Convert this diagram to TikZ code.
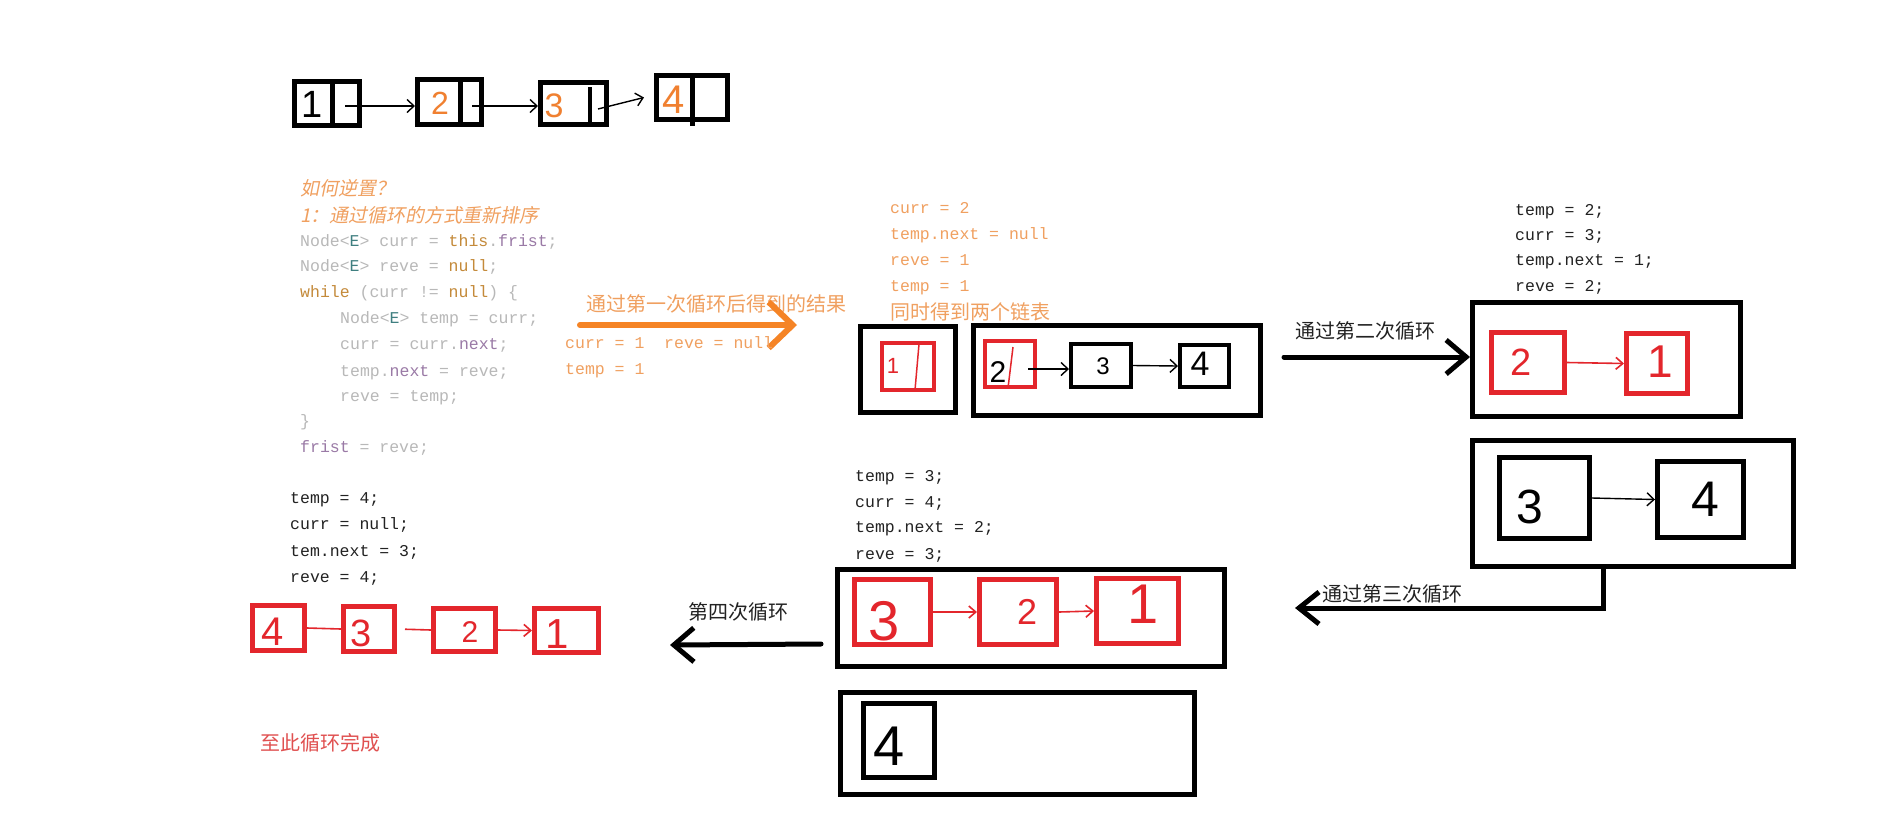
\documentclass[tikz,border=0pt]{standalone}
\usepackage{fontspec}
\setmainfont{Liberation Sans}
\newfontfamily\cjkfont{Noto Sans CJK SC}
\newfontfamily\cjkslant{Noto Sans CJK SC}[FakeSlant=0.2]
\newfontfamily\monofont{Liberation Mono}
\usetikzlibrary{arrows.meta}
\definecolor{boxred}{HTML}{E3262C}
\definecolor{penorange}{HTML}{F08030}
\definecolor{arrorange}{HTML}{F58426}
\definecolor{txtorange}{HTML}{F0A060}
\definecolor{cgray}{HTML}{B8B8B8}
\definecolor{cteal}{HTML}{3F7F80}
\definecolor{ckw}{HTML}{C48A3A}
\definecolor{cpur}{HTML}{9A7AA6}
\definecolor{txtblack}{HTML}{222222}
\definecolor{txtred}{HTML}{E05050}
\newcommand{\codeG}[1]{\textcolor{cgray}{#1}}
\newcommand{\codeT}[1]{\textcolor{cteal}{#1}}
\newcommand{\codeK}[1]{\textcolor{ckw}{#1}}
\newcommand{\codeP}[1]{\textcolor{cpur}{#1}}
\begin{document}
\begin{tikzpicture}[x=1pt,y=-1pt,
 blk/.style={draw=black,line width=5pt,inner sep=0pt},
 blkthin/.style={draw=black,line width=4pt,inner sep=0pt},
 redbox/.style={draw=boxred,line width=5pt,inner sep=0pt},
 code/.style={font=\monofont\fontsize{16.5pt}{20pt}\selectfont,anchor=west,inner sep=0pt,text height=12pt,text depth=3pt},
 cn/.style={font=\cjkfont\fontsize{20pt}{24pt}\selectfont,inner sep=0pt},
 cnit/.style={font=\cjkslant\fontsize{19pt}{23pt}\selectfont,inner sep=0pt,anchor=west,text=txtorange},
 dg/.style={font=\fontsize{#1pt}{#1pt}\selectfont,inner sep=0pt},
 thinarr/.style={line width=1.4pt,-{Straight Barb[length=7pt,width=13pt]}},
 redarr/.style={draw=boxred,line width=1.6pt,-{Straight Barb[length=7pt,width=12pt]}},
 bigarr/.style={line width=5pt,line cap=round,-{Straight Barb[length=20pt,width=34pt]}},
]
\fill[white] (0,0) rectangle (1894,820);
\useasboundingbox (0,0) rectangle (1894,820);

% ---------- top list ----------
\node[blk,minimum width=65pt,minimum height=44pt] (t1) at (327,103.5) {};
\node[blk,minimum width=64pt,minimum height=45pt] (t2) at (449.5,102) {};
\node[blk,minimum width=66pt,minimum height=42pt] (t3) at (573.5,103.5) {};
\node[blk,minimum width=71pt,minimum height=44pt] (t4) at (692,97.5) {};
\draw[line width=5pt] (332,80) -- (332,127);
\draw[line width=5pt] (460,78) -- (460,126);
\draw[line width=4pt] (590,87) -- (590,124);
\draw[line width=5pt] (692,74) -- (692,126);
\node[dg=38,text=black] (n1) at (312,104) {1};
\node[dg=32,text=penorange] (n2) at (440,103) {2};
\node[dg=34,text=penorange] (n3) at (554,106) {3};
\node[dg=40,text=penorange] (n4) at (674,100) {4};
\coordinate (p1) at (345,106);
\coordinate (p2) at (472,106);
\coordinate (p3) at (598,109);
\draw[thinarr] (p1) -- (p1 -| t2.west);
\draw[thinarr] (p2) -- (p2 -| t3.west);
\draw[thinarr] (p3) -- ([xshift=-10pt]t4.west);

% ---------- code block ----------
\node[cnit] (h1) at (300,188) {如何逆置？};
\node[cnit] (h2) at (300,215) {1：通过循环的方式重新排序};
\node[code] (c1) at (300,242) {\codeG{Node<}\codeT{E}\codeG{>}\ \codeG{curr =}\ \codeK{this}\codeG{.}\codeP{frist}\codeG{;}};
\node[code] (c2) at (300,267) {\codeG{Node<}\codeT{E}\codeG{>}\ \codeG{reve =}\ \codeK{null}\codeG{;}};
\node[code] (c3) at (300,293) {\codeK{while}\ \codeG{(curr !=}\ \codeK{null}\codeG{)}\ \codeG{\{}};
\node[code] (c4) at (340,319) {\codeG{Node<}\codeT{E}\codeG{>}\ \codeG{temp = curr;}};
\node[code] (c5) at (340,345) {\codeG{curr = curr.}\codeP{next}\codeG{;}};
\node[code] (c6) at (340,372) {\codeG{temp.}\codeP{next}\ \codeG{= reve;}};
\node[code] (c7) at (340,397) {\codeG{reve = temp;}};
\node[code] (c8) at (300,422) {\codeG{\}}};
\node[code] (c9) at (300,448) {\codeP{frist}\ \codeG{= reve;}};

% ---------- first loop ----------
\node[cn,anchor=west,text=txtorange] (l1) at (586,304) {通过第一次循环后得到的结果};
\coordinate (s1) at (580,325);
\coordinate (e1) at (797,325);
\draw[line width=6pt,line cap=round,draw=arrorange,-{Straight Barb[length=24pt,width=46pt]}] (s1) -- (e1);
\node[code,text=txtorange] (o1) at (565,344) {curr = 1\ \ reve = null};
\node[code,text=txtorange] (o2) at (565,370) {temp = 1};

\node[code,text=txtorange] (q1) at (890,209) {curr = 2};
\node[code,text=txtorange] (q2) at (890,235) {temp.next = null};
\node[code,text=txtorange] (q3) at (890,261) {reve = 1};
\node[code,text=txtorange] (q4) at (890,287) {temp = 1};
\node[cn,anchor=west,text=txtorange] (q5) at (890,312) {同时得到两个链表};

\node[blk,minimum width=95pt,minimum height=86pt] (L4o) at (908,369.5) {};
\node[redbox,line width=4pt,minimum width=52pt,minimum height=47pt] (L4r) at (908,366.5) {};
\draw[boxred,line width=1.5pt] (919,344) -- (915,390);
\node[dg=22,text=boxred] (L4n) at (893,366) {1};

\node[blk,minimum width=287pt,minimum height=90pt] (R4o) at (1117,370.5) {};
\node[redbox,line width=4pt,minimum width=50pt,minimum height=46pt] (R4r2) at (1010,364) {};
\draw[boxred,line width=1.5pt] (1013,347) -- (1008,388);
\node[dg=30,text=black] (R4n2) at (998,372) {2};
\node[blkthin,minimum width=60pt,minimum height=43pt] (R4b3) at (1101,365.5) {};
\node[dg=24,text=black] (R4n3) at (1103,366) {3};
\node[blkthin,minimum width=49pt,minimum height=42pt] (R4b4) at (1204.5,366) {};
\node[dg=34,text=black] (R4n4) at (1200,364) {4};
\coordinate (p42) at (1028,369);
\draw[thinarr] (p42) -- (p42 -| R4b3.west);
\draw[thinarr] (R4b3.east) -- (R4b4.west);

% ---------- second loop ----------
\node[cn,text=txtblack] (l2) at (1365,331) {通过第二次循环};
\node[code,text=txtblack] (w1) at (1515,211) {temp = 2;};
\node[code,text=txtblack] (w2) at (1515,236) {curr = 3;};
\node[code,text=txtblack] (w3) at (1515,261) {temp.next = 1;};
\node[code,text=txtblack] (w4) at (1515,287) {reve = 2;};
\node[blk,minimum width=268pt,minimum height=114pt] (R2o) at (1606.5,359.5) {};
\node[redbox,minimum width=73pt,minimum height=60pt] (R2r2) at (1528,362.5) {};
\node[redbox,minimum width=61pt,minimum height=60pt] (R2r1) at (1657,363.5) {};
\node[dg=38,text=boxred] (R2n2) at (1521,362) {2};
\node[dg=46,text=boxred] (R2n1) at (1660,362) {1};
\draw[redarr] (R2r2.east) -- (R2r1.west);
\coordinate (s2) at (1284,357);
\draw[bigarr] (s2) -- (s2 -| R2o.west);

\node[blk,minimum width=321pt,minimum height=126pt] (R3o) at (1633,503.5) {};
\node[blk,minimum width=90pt,minimum height=81pt] (R3b3) at (1544.5,498) {};
\node[blk,minimum width=86pt,minimum height=76pt] (R3b4) at (1700.5,499.5) {};
\node[dg=48,text=black] (R3n3) at (1530,507) {3};
\node[dg=50,text=black] (R3n4) at (1705,499) {4};
\draw[thinarr] (R3b3.east) -- (R3b4.west);

% ---------- third loop ----------
\coordinate (e3) at (1295,608);
\draw[bigarr,-{Straight Barb[length=20pt,width=32pt]}] ([xshift=-30pt]R3o.south) |- (e3);
\node[cn,text=txtblack] (l3) at (1392,594) {通过第三次循环};

\node[code,text=txtblack] (m1) at (855,477) {temp = 3;};
\node[code,text=txtblack] (m2) at (855,503) {curr = 4;};
\node[code,text=txtblack] (m3) at (855,528) {temp.next = 2;};
\node[code,text=txtblack] (m4) at (855,555) {reve = 3;};
\node[blk,minimum width=387pt,minimum height=97pt] (M1o) at (1031,618) {};
\node[redbox,minimum width=76pt,minimum height=65pt] (M1r3) at (892.5,612) {};
\node[redbox,minimum width=77pt,minimum height=65pt] (M1r2) at (1018,612) {};
\node[redbox,minimum width=82pt,minimum height=65pt] (M1r1) at (1137.5,611) {};
\node[dg=56,text=boxred] (M1n3) at (884,621) {3};
\node[dg=36,text=boxred] (M1n2) at (1027,612) {2};
\node[dg=56,text=boxred] (M1n1) at (1143,604) {1};
\draw[redarr] (M1r3.east) -- (M1r2.west);
\draw[redarr] (M1r2.east) -- (M1r1.west);
\node[blk,minimum width=354pt,minimum height=102pt] (M2o) at (1017.5,743.5) {};
\node[blk,minimum width=71pt,minimum height=74pt] (M2b4) at (899,740.5) {};
\node[dg=56,text=black] (M2n4) at (889,746) {4};

% ---------- fourth loop ----------
\coordinate (s4) at (821,644);
\coordinate (e4) at (670,645);
\draw[bigarr] (s4) -- (e4);
\node[cn,text=txtblack] (l4) at (738,612) {第四次循环};

\node[code,text=txtblack] (f1) at (290,499) {temp = 4;};
\node[code,text=txtblack] (f2) at (290,525) {curr = null;};
\node[code,text=txtblack] (f3) at (290,552) {tem.next = 3;};
\node[code,text=txtblack] (f4) at (290,578) {reve = 4;};
\node[redbox,minimum width=52pt,minimum height=45pt] (B4) at (278.5,628) {};
\node[redbox,minimum width=51pt,minimum height=45pt] (B3) at (369,629) {};
\node[redbox,minimum width=62pt,minimum height=43pt] (B2) at (464.5,630) {};
\node[redbox,minimum width=64pt,minimum height=44pt] (B1) at (566.5,630.5) {};
\node[dg=40,text=boxred] (Bn4) at (273,632) {4};
\node[dg=38,text=boxred] (Bn3) at (361,633) {3};
\node[dg=30,text=boxred] (Bn2) at (470,632) {2};
\node[dg=42,text=boxred] (Bn1) at (557,634) {1};
\draw[boxred,line width=1.6pt] (B4.east) -- (B3.west);
\draw[boxred,line width=1.6pt,shorten <=8pt] (B3.east) -- (B2.west);
\draw[redarr] (B2.east) -- (B1.west);
\node[cn,text=txtred] (done) at (320,743) {至此循环完成};
\end{tikzpicture}
\end{document}
